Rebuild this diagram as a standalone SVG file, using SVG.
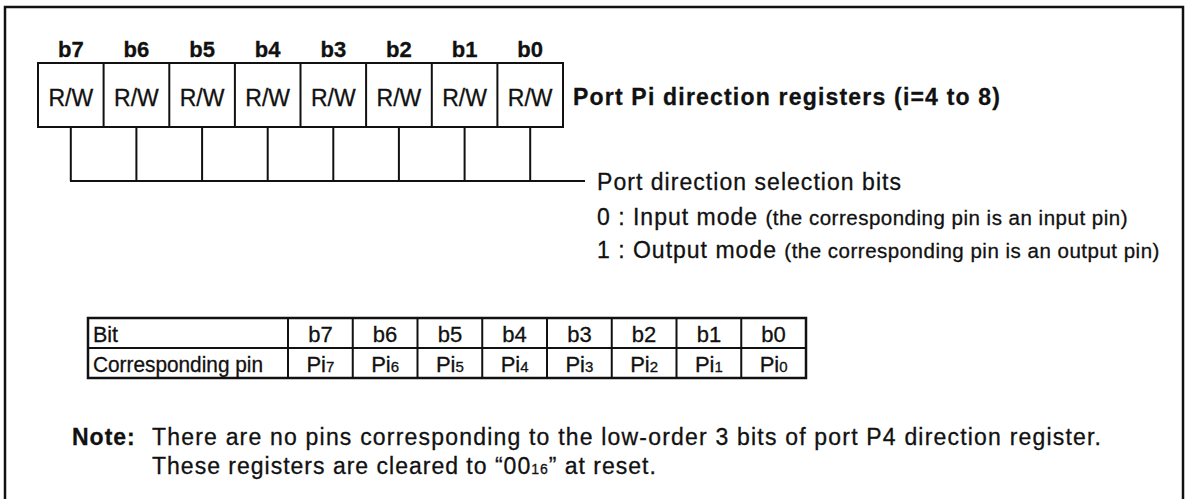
<svg xmlns="http://www.w3.org/2000/svg" width="1189" height="499" viewBox="0 0 1189 499">
<style>
text{font-family:"Liberation Sans",Arial,sans-serif;fill:#111;stroke:#111;stroke-width:0.3}
.b{font-weight:bold}
.lbl{font-size:22px;font-weight:bold;text-anchor:middle}
.rw{font-size:23px;text-anchor:middle}
.t{font-size:23px;letter-spacing:1px}
.p{font-size:20.5px;letter-spacing:0.5px}
.tb{font-size:21.5px}
.tc{font-size:22px;text-anchor:middle}
.sub{font-size:15px}
.box{fill:#fff;stroke:#111;stroke-width:2}
.ln{fill:none;stroke:#111;stroke-width:2}
</style>
<rect x="5" y="7" width="1178" height="510" fill="#fff" stroke="#111" stroke-width="2.5"/>
<g id="register">
<rect class="box" x="38" y="63" width="525" height="64"/>
<path class="ln" d="M103.6 63V127M169.3 63V127M234.9 63V127M300.5 63V127M366.1 63V127M431.8 63V127M497.4 63V127"/>
<text class="lbl" x="70.8" y="57">b7</text>
<text class="lbl" x="136.4" y="57">b6</text>
<text class="lbl" x="202.1" y="57">b5</text>
<text class="lbl" x="267.7" y="57">b4</text>
<text class="lbl" x="333.3" y="57">b3</text>
<text class="lbl" x="398.9" y="57">b2</text>
<text class="lbl" x="464.6" y="57">b1</text>
<text class="lbl" x="530.2" y="57">b0</text>
<text class="rw" x="70.8" y="106">R/W</text>
<text class="rw" x="136.4" y="106">R/W</text>
<text class="rw" x="202.1" y="106">R/W</text>
<text class="rw" x="267.7" y="106">R/W</text>
<text class="rw" x="333.3" y="106">R/W</text>
<text class="rw" x="398.9" y="106">R/W</text>
<text class="rw" x="464.6" y="106">R/W</text>
<text class="rw" x="530.2" y="106">R/W</text>
</g>
<g id="title">
<text class="t b" x="573" y="105" textLength="428" lengthAdjust="spacing">Port Pi direction registers (i=4 to 8)</text>
</g>
<g id="connectors">
<path class="ln" d="M70.8 127V181M136.4 127V181M202.1 127V181M267.7 127V181M333.3 127V181M398.9 127V181M464.6 127V181M530.2 127V181M70 181H585"/>
</g>
<g id="bits-desc">
<text class="t" x="597" y="190" textLength="305" lengthAdjust="spacing">Port direction selection bits</text>
<text x="597" y="225"><tspan class="t">0 : Input mode </tspan><tspan class="p">(the corresponding pin is an input pin)</tspan></text>
<text x="597" y="258"><tspan class="t">1 : Output mode </tspan><tspan class="p">(the corresponding pin is an output pin)</tspan></text>
</g>
<g id="pin-table">
<rect x="88" y="318" width="718" height="60" fill="#fff" stroke="#111" stroke-width="2.5"/>
<path class="ln" d="M88 348H806" stroke-width="1.5"/>
<path class="ln" stroke-width="1.5" d="M288 318V378M352.75 318V378M417.5 318V378M482.25 318V378M547 318V378M611.75 318V378M676.5 318V378M741.25 318V378"/>
<text class="tb" x="93" y="342">Bit</text>
<text class="tb" x="93" y="372" textLength="170" lengthAdjust="spacingAndGlyphs">Corresponding pin</text>
<text class="tc" x="320.4" y="342">b7</text>
<text class="tc" x="385.1" y="342">b6</text>
<text class="tc" x="449.9" y="342">b5</text>
<text class="tc" x="514.6" y="342">b4</text>
<text class="tc" x="579.4" y="342">b3</text>
<text class="tc" x="644.1" y="342">b2</text>
<text class="tc" x="708.9" y="342">b1</text>
<text class="tc" x="773.6" y="342">b0</text>
<text class="tc" x="320.4" y="372">Pi<tspan class="sub">7</tspan></text>
<text class="tc" x="385.1" y="372">Pi<tspan class="sub">6</tspan></text>
<text class="tc" x="449.9" y="372">Pi<tspan class="sub">5</tspan></text>
<text class="tc" x="514.6" y="372">Pi<tspan class="sub">4</tspan></text>
<text class="tc" x="579.4" y="372">Pi<tspan class="sub">3</tspan></text>
<text class="tc" x="644.1" y="372">Pi<tspan class="sub">2</tspan></text>
<text class="tc" x="708.9" y="372">Pi<tspan class="sub">1</tspan></text>
<text class="tc" x="773.6" y="372">Pi<tspan class="sub">0</tspan></text>
</g>
<g id="note">
<text class="t b" x="72" y="445" letter-spacing="0.5">Note:</text>
<text class="t" x="152" y="445" textLength="950" lengthAdjust="spacing">There are no pins corresponding to the low-order 3 bits of port P4 direction register.</text>
<text class="t" x="152" y="474">These registers are cleared to “00<tspan font-size="14px">16</tspan>” at reset.</text>
</g>
</svg>
